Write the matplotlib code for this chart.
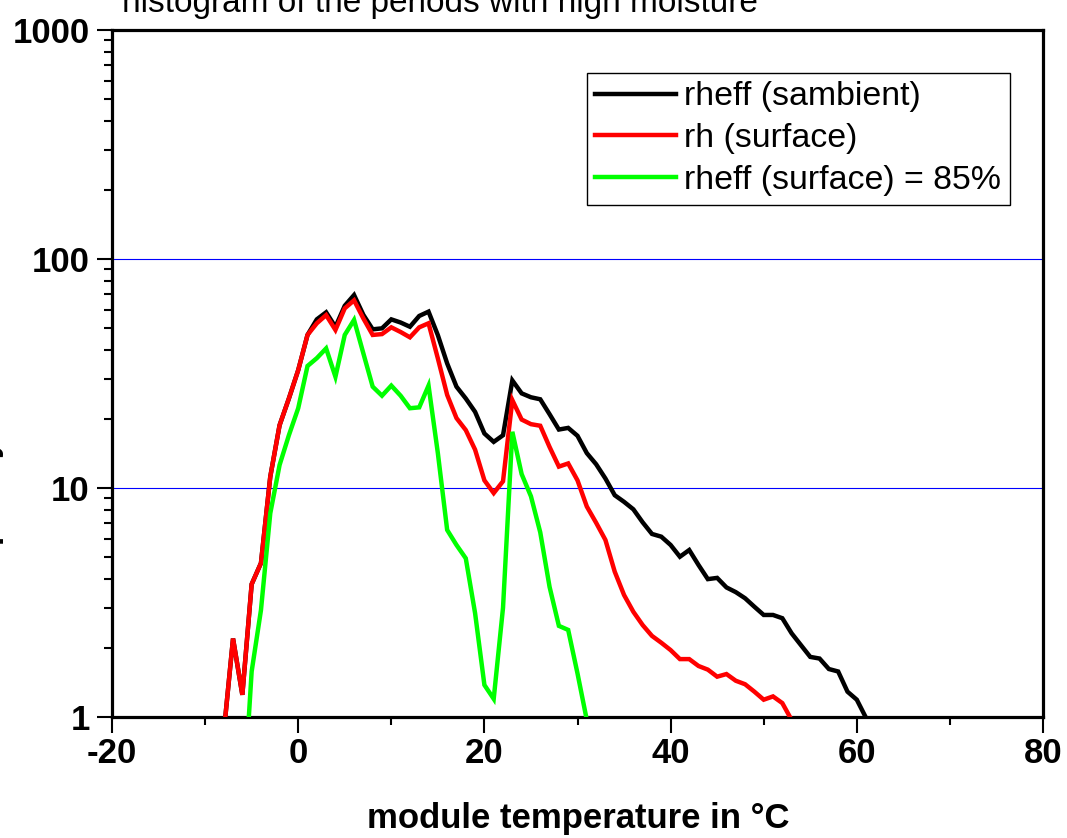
import matplotlib
matplotlib.use("Agg")
import matplotlib.pyplot as plt
from matplotlib.ticker import LogLocator, NullFormatter

# ---------------- data ----------------
temps_black = list(range(-8, 62))
rheff_sambient = [0.85, 2.2, 1.25, 3.8, 4.7, 11.2, 18.8, 24.6, 32.7, 46.6,
                  54.5, 58.5, 50.5, 62.5, 69.6, 57.0, 49.3, 49.8, 54.5, 52.8,
                  50.6, 56.4, 58.9, 46.5, 35.0, 27.7, 24.6, 21.5, 17.3, 15.9,
                  17.0, 29.5, 25.9, 24.9, 24.4, 21.0, 18.0, 18.3, 16.9, 14.2,
                  12.7, 11.0, 9.3, 8.7, 8.07, 7.08, 6.3, 6.13, 5.64, 5.01,
                  5.36, 4.61, 4.0, 4.05, 3.68, 3.51, 3.3, 3.03, 2.79, 2.79,
                  2.7, 2.32, 2.06, 1.83, 1.8, 1.62, 1.58, 1.29, 1.19, 0.99]

temps_red = list(range(-8, 54))
rh_surface = [0.85, 2.2, 1.25, 3.8, 4.7, 11.2, 18.8, 24.6, 32.7, 46.6,
              52.4, 56.9, 49.0, 60.9, 66.0, 55.0, 46.6, 47.0, 50.3, 48.0,
              45.5, 50.3, 52.4, 36.8, 25.5, 20.2, 17.9, 14.7, 10.8, 9.5,
              10.7, 24.2, 19.9, 19.0, 18.7, 15.1, 12.4, 12.8, 10.8, 8.3,
              7.05, 5.93, 4.31, 3.41, 2.88, 2.52, 2.26, 2.11, 1.96, 1.79,
              1.79, 1.67, 1.61, 1.5, 1.54, 1.44, 1.39, 1.29, 1.19, 1.23,
              1.15, 0.97]

temps_green = list(range(-6, 32))
rheff_surface85 = [0.35, 1.58, 2.93, 7.75, 12.6, 17.0, 22.3, 34.1, 36.9, 40.7,
                   30.6, 46.6, 54.2, 38.7, 27.7, 25.3, 28.0, 25.3, 22.3, 22.5,
                   28.0, 14.2, 6.56, 5.64, 4.93, 2.84, 1.38, 1.2, 3.0, 17.6,
                   11.5, 9.2, 6.4, 3.7, 2.5, 2.4, 1.55, 0.97]

series_labels = ["rheff (sambient)", "rh (surface)", "rheff (surface) = 85%"]
series_colors = ["#000000", "#ff0000", "#00ff00"]

x_ticks = [-20, 0, 20, 40, 60, 80]
x_tick_labels = ["-20", "0", "20", "40", "60", "80"]
x_minor_ticks = [-10, 10, 30, 50, 70]
y_ticks = [1, 10, 100, 1000]
y_tick_labels = ["1", "10", "100", "1000"]

title_text = "histogram of the periods with high moisture"
x_label = "module temperature in °C"
y_label = "frequency"

# ---------------- figure ----------------
plt.rcParams['font.family'] = ['Liberation Sans', 'DejaVu Sans']
plt.rcParams['axes.unicode_minus'] = False

W, H = 1067, 838
fig = plt.figure(figsize=(W / 100, H / 100), dpi=100)
ax = fig.add_axes([112 / W, (H - 717) / H, (1043 - 112) / W, (717 - 30) / H])

ax.set_yscale('log')
ax.set_xlim(-20, 80)
ax.set_ylim(1, 1000)

for xs, ys, lab, col in zip([temps_black, temps_red, temps_green],
                            [rheff_sambient, rh_surface, rheff_surface85],
                            series_labels, series_colors):
    ax.plot(xs, ys, color=col, lw=3.2, label=lab, solid_joinstyle='miter',
            zorder=3)

# blue horizontal gridlines at decades
ax.yaxis.grid(True, which='major', color='#0000ff', lw=0.8, zorder=1)
ax.xaxis.grid(False)
ax.set_axisbelow(True)

# ticks
ax.set_xticks(x_ticks, x_tick_labels)
ax.set_xticks(x_minor_ticks, minor=True)
ax.set_yticks(y_ticks, y_tick_labels)
ax.yaxis.set_minor_locator(LogLocator(base=10, subs=range(2, 10)))
ax.yaxis.set_minor_formatter(NullFormatter())

ax.tick_params(axis='x', which='major', direction='out', length=11.5,
               width=1.5, labelsize=25, pad=3)
ax.tick_params(axis='x', which='minor', direction='out', length=6, width=1.5)
ax.tick_params(axis='y', which='major', direction='out', length=11,
               width=1.5, labelsize=25, pad=5)
ax.tick_params(axis='y', which='minor', direction='out', length=6, width=1.5)
for lbl in ax.get_xticklabels() + ax.get_yticklabels():
    lbl.set_fontweight('bold')

for sp in ax.spines.values():
    sp.set_linewidth(2.3)
    sp.set_color('black')

# legend
leg = ax.legend(loc='upper left', bbox_to_anchor=(587 / W, (H - 73) / H),
                bbox_transform=fig.transFigure, fontsize=24.4, frameon=True,
                fancybox=False, edgecolor='black', framealpha=1,
                handlelength=2.37, handletextpad=0.25, labelspacing=0.32,
                borderpad=0.25, borderaxespad=0)
leg.get_frame().set_linewidth(1.0)

# texts
fig.text(122 / W, 1 - 12 / H, title_text, fontsize=24, ha='left',
         va='baseline')
fig.text(578 / W, 1 - 828 / H, x_label, fontsize=25, fontweight='bold',
         ha='center', va='baseline')
fig.text(-4 / W, (H - 598) / H, y_label, rotation=90, rotation_mode='anchor',
         ha='left', va='baseline', fontsize=24, fontweight='bold')

fig.savefig("out.png", dpi=100)
